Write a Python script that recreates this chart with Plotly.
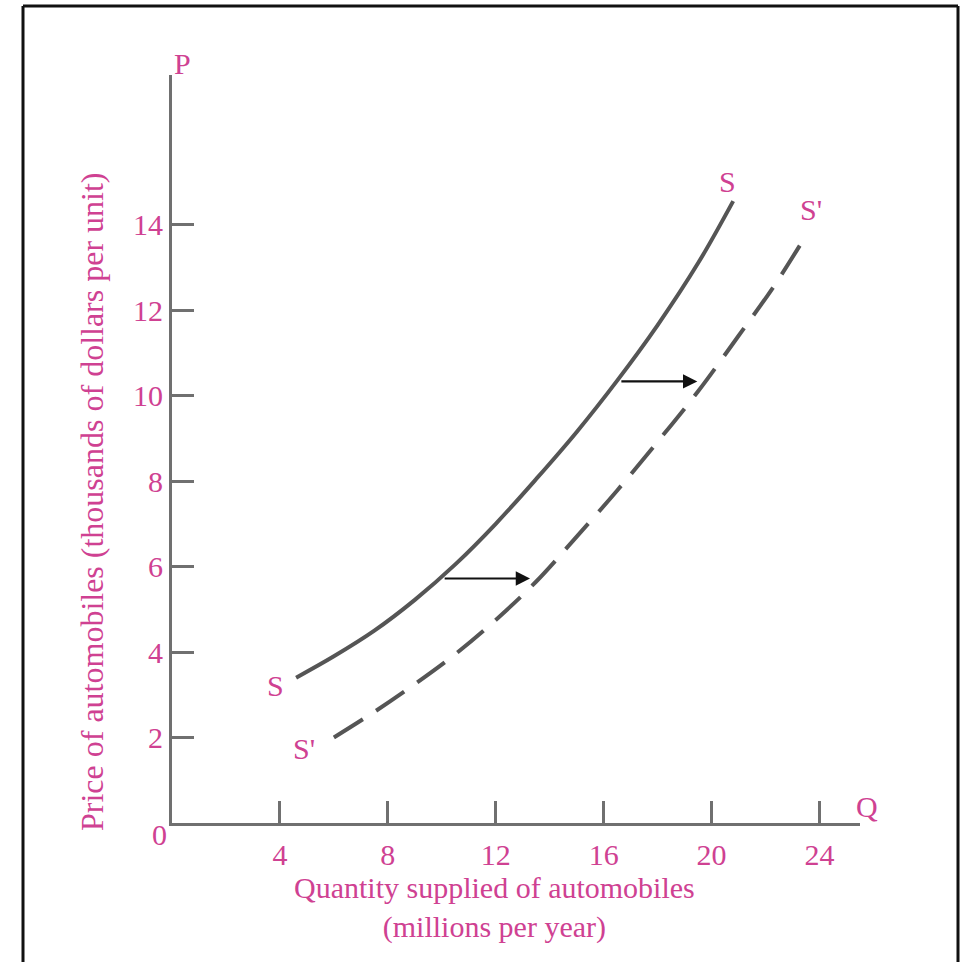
import plotly.graph_objects as go

# Supply curve S (solid): quantity (millions/yr) and price (thousand $)
q_s = [4.6, 6.0, 7.5, 9.0, 10.5, 12.0, 13.5, 15.0, 16.5, 18.0, 19.5, 20.8]
p_s = [3.4, 3.9, 4.5, 5.22, 6.05, 7.0, 8.05, 9.15, 10.35, 11.65, 13.1, 14.55]

# Shifted supply curve S' (dashed)
q_s2 = [6.0, 7.5, 9.0, 10.5, 12.0, 13.5, 15.0, 16.5, 18.0, 19.5, 21.0, 22.3, 23.55]
p_s2 = [2.0, 2.6, 3.25, 3.95, 4.75, 5.65, 6.7, 7.78, 8.92, 10.1, 11.4, 12.55, 13.8]

# Shift arrows
shift_p = [5.72, 10.33]
shift_from = [10.05, 16.6]
shift_to = [13.27, 19.47]

x_ticks = [4, 8, 12, 16, 20, 24]
y_ticks = [2, 4, 6, 8, 10, 12, 14]

PINK = "#cf4192"
CURVE = "#555555"
AXIS = "#707070"
FONT = "Liberation Serif"
FS = 30

fig = go.Figure()
fig.add_trace(go.Scatter(x=q_s, y=p_s, mode="lines",
                         line=dict(color=CURVE, width=4, shape="spline", smoothing=1.0),
                         hoverinfo="skip"))
fig.add_trace(go.Scatter(x=q_s2, y=p_s2, mode="lines",
                         line=dict(color=CURVE, width=4, dash="34px,16px", shape="spline", smoothing=1.0),
                         hoverinfo="skip"))

ann = []
for p, a, b in zip(shift_p, shift_from, shift_to):
    ann.append(dict(x=b, y=p, ax=a, ay=p, xref="x", yref="y", axref="x", ayref="y",
                    text="", showarrow=True, arrowhead=2, arrowsize=1.3, arrowwidth=2.2,
                    arrowcolor="#111111"))

def lab(txt, x, y, ref="x", size=FS):
    ann.append(dict(text=txt, x=x, y=y, xref=ref, yref=("y" if ref == "x" else "paper"),
                    showarrow=False, font=dict(family=FONT, size=size, color=PINK)))

lab("S", 20.6, 15.0)
lab("S'", 23.7, 14.35)
lab("S", 3.82, 3.22)
lab("S'", 4.9, 1.75)
lab("P", 0.0, (823 - 45) / 748, ref="paper")
lab("Q", (880 - 172) / 688, (823 - 825) / 748, ref="paper")
lab("0", (150 - 172) / 688, (823 - 853) / 748, ref="paper")

ann.append(dict(text="Quantity supplied of automobiles<br>(millions per year)",
                x=(494 - 172) / 688, y=(823 - 907) / 748,
                xref="paper", yref="paper", showarrow=False, xanchor="center", yanchor="middle",
                font=dict(family=FONT, size=30, color=PINK)))
ann.append(dict(text="Price of automobiles (thousands of dollars per unit)",
                x=(92 - 172) / 688, y=(823 - 502) / 748, textangle=-90,
                xref="paper", yref="paper", showarrow=False, xanchor="center", yanchor="middle",
                font=dict(family=FONT, size=32, color=PINK)))

# frame around the figure (left, top, right edges)
L, T, R, B = (23 - 172) / 688, (823 - 6) / 748, (958 - 172) / 688, (823 - 975) / 748
frame = dict(color="#111111", width=3)
shapes = [
    dict(type="line", xref="paper", yref="paper", x0=L, x1=L, y0=B, y1=T, line=frame),
    dict(type="line", xref="paper", yref="paper", x0=L, x1=R, y0=T, y1=T, line=frame),
    dict(type="line", xref="paper", yref="paper", x0=R, x1=R, y0=T, y1=B, line=frame),
]

axis_common = dict(showline=True, linecolor=AXIS, linewidth=3, ticks="inside", ticklen=22,
                   tickwidth=3, tickcolor=AXIS, showgrid=False, zeroline=False,
                   tickfont=dict(family=FONT, size=FS, color=PINK), fixedrange=True)

fig.update_layout(
    width=964, height=962,
    margin=dict(l=172, r=104, t=75, b=139),
    paper_bgcolor="white", plot_bgcolor="white",
    showlegend=False,
    xaxis=dict(range=[0, 25.5], tickvals=x_ticks, ticktext=[str(v) for v in x_ticks],
               ticklabelstandoff=3, **axis_common),
    yaxis=dict(range=[0, 17.5], tickvals=y_ticks, ticktext=[str(v) for v in y_ticks],
               ticklabelstandoff=0, **axis_common),
    annotations=ann,
    shapes=shapes,
)

fig.write_html("out.html", config={"displayModeBar": False},
               post_script="document.body.style.margin='0px';document.body.style.overflow='hidden';")
